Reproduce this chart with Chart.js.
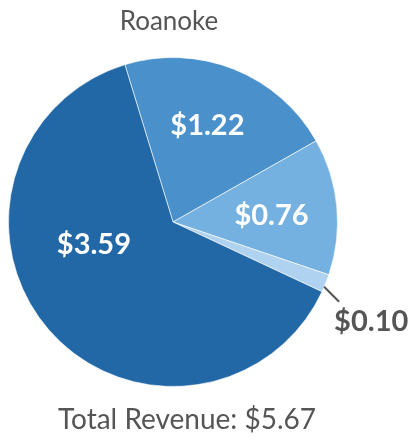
<!DOCTYPE html>
<html>
<head>
<meta charset="utf-8">
<script src="https://cdn.jsdelivr.net/npm/chart.js@4.4.0/dist/chart.umd.min.js"></script>
<style>
  html, body { margin: 0; padding: 0; background: #fff; }
  #wrap { width: 412px; height: 441px; }
</style>
</head>
<body>
<div id="wrap"><canvas id="pie"></canvas></div>
<script>
//Chart data
const city = "Roanoke";
const labels = ["$1.22", "$0.76", "$0.10", "$3.59"];
const values = [1.22, 0.76, 0.10, 3.59];
const total = "$5.67";
//slice colors
const pieColors = ["#4a90cb", "#74b1e0", "#afd2f0", "#2268a6"];

const fontFamily = "Lato, 'Noto Sans', sans-serif";
//label placement: radius fraction and angle shift (degrees) per slice
const labelPlace = [
  { r: 0.62, shift: -2, inside: true },
  { r: 0.6, shift: 2, inside: true },
  { r: 0, shift: 0, inside: false },
  { r: 0.5, shift: 25, inside: true },
];

//Plugin that draws the slice labels, the title and the total
const textPlugin = {
  id: "texts",
  afterDraw(chart) {
    const ctx = chart.ctx;
    const arcs = chart.getDatasetMeta(0).data;
    ctx.save();
    ctx.textBaseline = "middle";
    arcs.forEach((arc, i) => {
      const p = labelPlace[i];
      const mid = (arc.startAngle + arc.endAngle) / 2 + p.shift * Math.PI / 180;
      ctx.font = "bold 29px " + fontFamily;
      if (p.inside) {
        const x = arc.x + Math.cos(mid) * arc.outerRadius * p.r;
        const y = arc.y + Math.sin(mid) * arc.outerRadius * p.r;
        ctx.fillStyle = "#ffffff";
        ctx.textAlign = "center";
        ctx.fillText(labels[i], x, y);
      } else {
        //leader line for the small slice, going down at 45 degrees
        const x1 = arc.x + Math.cos(mid) * arc.outerRadius * 0.99;
        const y1 = arc.y + Math.sin(mid) * arc.outerRadius * 0.99 + 4;
        const x2 = x1 + 15;
        const y2 = y1 + 15;
        ctx.strokeStyle = "#555555";
        ctx.lineWidth = 2;
        ctx.beginPath();
        ctx.moveTo(x1, y1);
        ctx.lineTo(x2, y2);
        ctx.stroke();
        ctx.fillStyle = "#555555";
        ctx.textAlign = "left";
        ctx.fillText(labels[i], x2 - 5, y2 + 20);
      }
    });
    const a = arcs[0];
    ctx.fillStyle = "#555555";
    ctx.textAlign = "center";
    ctx.font = "26px " + fontFamily;
    ctx.fillText(city, a.x - 4, 22);
    ctx.font = "28px " + fontFamily;
    ctx.fillText("Total Revenue: " + total, a.x + 14, 420);
    ctx.restore();
  },
};

new Chart(document.getElementById("pie"), {
  type: "pie",
  plugins: [textPlugin],
  data: {
    labels: labels,
    datasets: [
      {
        data: values,
        backgroundColor: pieColors,
        borderColor: "rgba(255,255,255,0.6)",
        borderWidth: 1,
      },
    ],
  },
  options: {
    responsive: true,
    maintainAspectRatio: false,
    animation: false,
    rotation: -17,
    layout: { padding: { left: 8, right: 74, top: 57, bottom: 54 } },
    plugins: {
      legend: { display: false },
      tooltip: { enabled: false },
    },
  },
});
</script>
</body>
</html>
